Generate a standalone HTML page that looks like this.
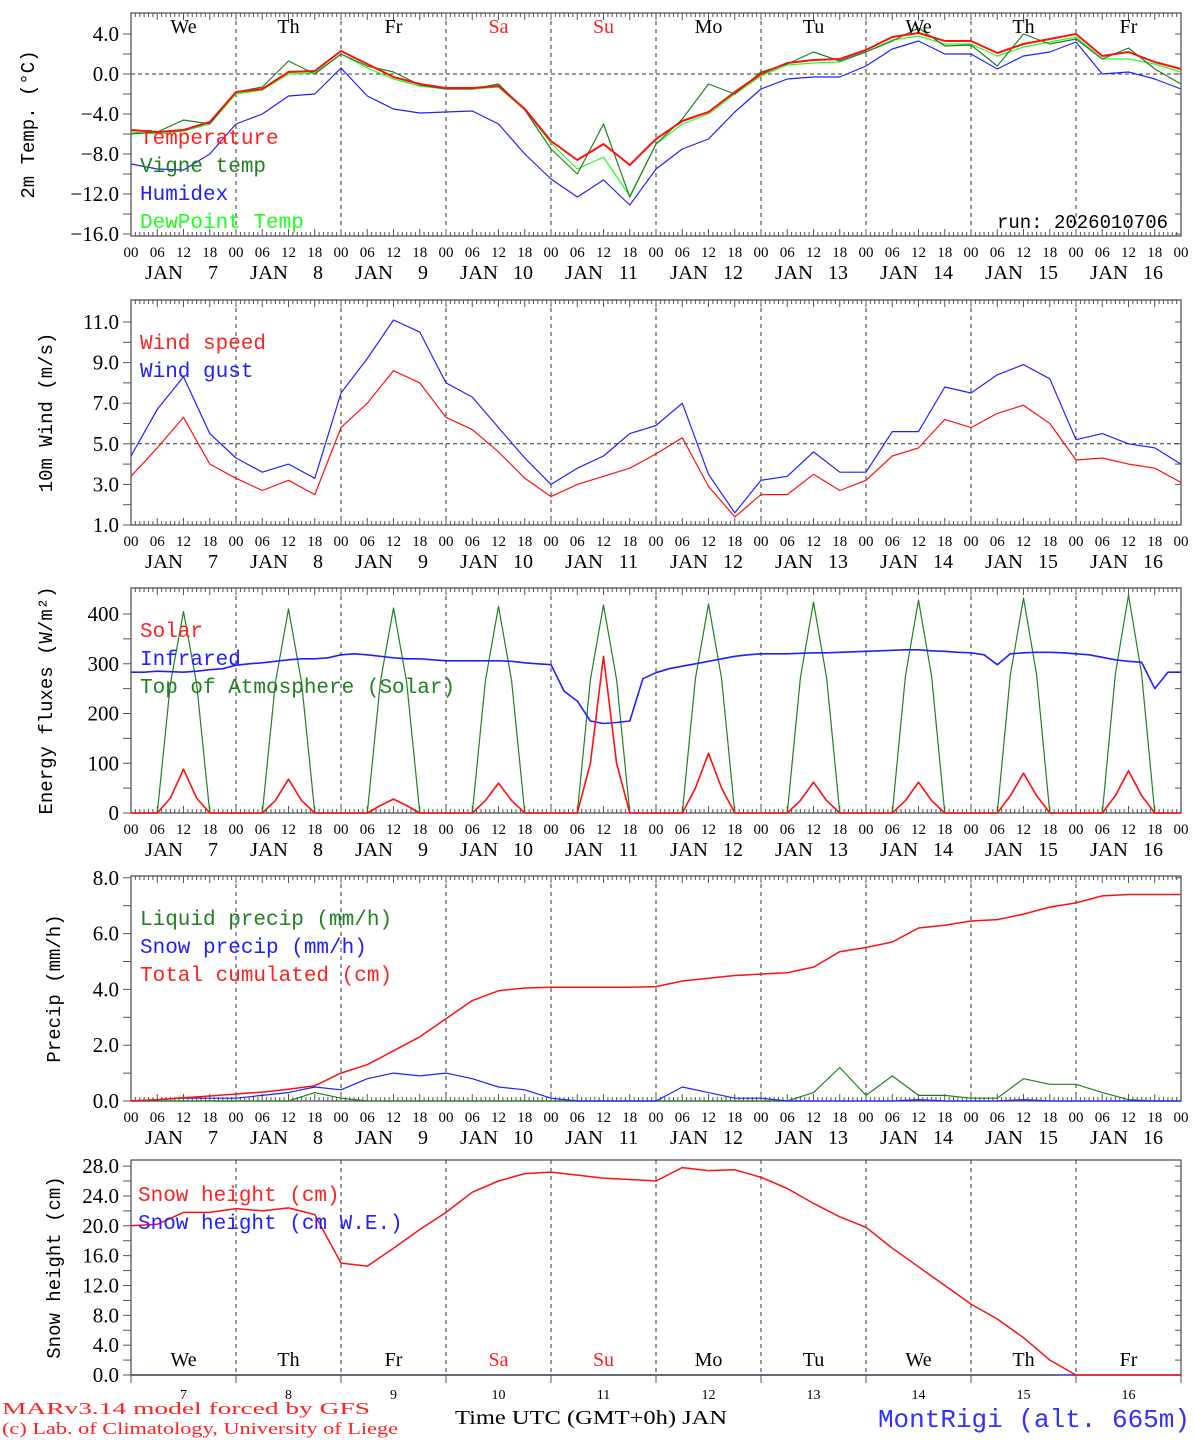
<!DOCTYPE html>
<html><head><meta charset="utf-8"><style>
body{margin:0;background:#fff;}
svg{display:block;}
text{font-family:"Liberation Serif",serif;}
.mono{font-family:"Liberation Mono",monospace;}
</style></head><body>
<svg id="c" width="1194" height="1440" viewBox="0 0 1194 1440" xmlns="http://www.w3.org/2000/svg"></svg>
<script>
// ---- data (6-hourly, Jan 7 00h .. Jan 17 00h) ----
const days = ['7','8','9','10','11','12','13','14','15','16'];
const dayNames = ['We','Th','Fr','Sa','Su','Mo','Tu','We','Th','Fr'];
const hourTicks = ['00','06','12','18'];
const temp = [-5.6,-5.8,-5.6,-4.8,-1.8,-1.5,0.2,0.3,2.3,1.0,-0.3,-1.0,-1.4,-1.4,-1.2,-3.5,-6.7,-8.6,-7.0,-9.1,-6.5,-4.7,-3.8,-1.8,0.0,1.1,1.4,1.5,2.4,3.7,4.1,3.3,3.3,2.1,3.0,3.5,4.0,1.8,2.2,1.2,0.5];
const vigne = [-6.0,-5.8,-4.6,-5.0,-1.8,-1.3,1.3,0.0,2.0,0.8,0.2,-1.1,-1.5,-1.5,-1.0,-3.6,-7.5,-10.0,-5.0,-12.3,-7.0,-4.5,-1.0,-2.0,0.2,1.0,2.2,1.3,2.2,3.3,4.6,2.8,2.9,0.8,4.0,3.0,3.5,1.5,2.6,0.5,-1.0];
const humidex = [-9.0,-9.5,-9.6,-8.0,-5.0,-4.0,-2.2,-2.0,0.6,-2.2,-3.5,-3.9,-3.8,-3.7,-5.0,-8.0,-10.5,-12.3,-10.6,-13.1,-9.5,-7.5,-6.5,-3.8,-1.5,-0.5,-0.3,-0.3,0.8,2.5,3.3,2.0,2.0,0.5,1.8,2.2,3.2,0.0,0.2,-0.5,-1.5];
const dewpoint = [-5.8,-6.0,-5.7,-5.0,-2.0,-1.6,0.0,0.1,2.0,0.6,-0.5,-1.2,-1.5,-1.5,-1.3,-3.6,-6.9,-9.5,-8.3,-12.2,-7.0,-5.0,-4.0,-2.0,-0.2,0.9,1.1,1.2,2.2,3.4,3.8,3.0,3.0,1.8,2.7,3.2,3.7,1.5,1.5,1.0,0.2];
const windSpeed = [3.4,4.8,6.3,4.0,3.3,2.7,3.2,2.5,5.8,7.0,8.6,8.0,6.3,5.7,4.6,3.3,2.4,3.0,3.4,3.8,4.5,5.3,2.9,1.4,2.5,2.5,3.5,2.7,3.2,4.4,4.8,6.2,5.8,6.5,6.9,6.0,4.2,4.3,4.0,3.8,3.1];
const windGust = [4.4,6.7,8.3,5.5,4.3,3.6,4.0,3.3,7.5,9.2,11.1,10.5,8.0,7.3,5.8,4.3,3.0,3.8,4.4,5.5,5.9,7.0,3.5,1.6,3.2,3.4,4.6,3.6,3.6,5.6,5.6,7.8,7.5,8.4,8.9,8.2,5.2,5.5,5.0,4.8,4.0];
// 3-hourly radiation
const solar = [0,0,0,30,88,30,0,0, 0,0,0,25,68,25,0,0, 0,0,0,15,28,15,0,0, 0,0,0,25,60,25,0,0, 0,0,0,100,315,100,0,0, 0,0,0,50,120,50,0,0, 0,0,0,25,62,25,0,0, 0,0,0,25,62,25,0,0, 0,0,0,35,80,35,0,0, 0,0,0,35,85,35,0,0, 0];
const infrared = [283,283,285,284,283,285,288,290, 297,300,302,305,308,310,310,312, 318,320,318,315,312,310,310,308, 306,306,306,306,306,305,302,300, 298,245,225,185,180,182,185,270, 282,290,295,300,305,310,315,318, 320,320,320,321,322,322,323,324, 325,326,327,328,328,326,325,323, 322,318,298,320,322,323,323,322, 320,318,313,308,305,303,250,283, 283];
const toa = [0,0,0,260,405,260,0,0, 0,0,0,262,410,262,0,0, 0,0,0,264,412,264,0,0, 0,0,0,266,415,266,0,0, 0,0,0,268,418,268,0,0, 0,0,0,270,420,270,0,0, 0,0,0,272,424,272,0,0, 0,0,0,275,428,275,0,0, 0,0,0,278,432,278,0,0, 0,0,0,280,438,280,0,0, 0];
const liquid = [0,0,0,0,0,0,0,0.3,0.1,0,0,0,0,0,0,0,0,0,0,0,0,0,0,0,0,0,0.3,1.2,0.2,0.9,0.2,0.2,0.1,0.1,0.8,0.6,0.6,0.3,0.05,0,0];
const snowPrecip = [0,0.05,0.1,0.1,0.1,0.2,0.3,0.5,0.4,0.8,1.0,0.9,1.0,0.8,0.5,0.4,0.1,0,0,0,0,0.5,0.3,0.1,0.1,0,0,0,0,0,0.05,0,0,0,0.05,0,0,0,0,0,0];
const totalCum = [0,0.05,0.12,0.18,0.25,0.32,0.42,0.55,1.0,1.3,1.8,2.3,2.95,3.6,3.95,4.05,4.08,4.08,4.08,4.08,4.1,4.3,4.4,4.5,4.55,4.6,4.8,5.35,5.5,5.7,6.2,6.3,6.45,6.5,6.7,6.95,7.1,7.35,7.4,7.4,7.4];
const snowHeight = [20.0,20.2,21.8,21.8,22.3,22.0,22.4,21.5,15.0,14.6,17.0,19.5,21.8,24.5,26.0,27.0,27.2,26.8,26.4,26.2,26.0,27.8,27.4,27.5,26.5,25.0,23.0,21.2,19.8,17.0,14.5,12.0,9.5,7.5,5.0,2.0,0,0,0,0,0];
const snowWE = [0,0,0,0,0,0,0,0,0,0,0,0,0,0,0,0,0,0,0,0,0,0,0,0,0,0,0,0,0,0,0,0,0,0,0,0,0,0,0,0,0];

const NS='http://www.w3.org/2000/svg';
const svg=document.getElementById('c');
function el(tag,attrs,parent){const e=document.createElementNS(NS,tag);for(const k in attrs)e.setAttribute(k,attrs[k]);(parent||svg).appendChild(e);return e;}
function txt(s,x,y,attrs,name){const t=el('text',Object.assign({x:x,y:y},attrs));t.textContent=s;


return t;}
const X0=131,X1=1181,PXH=(X1-X0)/240;
function X(h){return X0+h*PXH;}

const panels=[
 {top:13,bot:236,ref:0,refY:74,sc:10,ticks:[4,0,-4,-8,-12,-16],minor:2,fmt:1,title:'2m Temp. (°C)',name:'temperature-panel'},
 {top:300,bot:525,ref:1,refY:525,sc:20.3,ticks:[11,9,7,5,3,1],minor:1,fmt:1,title:'10m Wind (m/s)',name:'wind-panel'},
 {top:588,bot:813,ref:0,refY:813,sc:0.4975,ticks:[400,300,200,100,0],minor:50,fmt:0,title:'Energy fluxes (W/m²)',name:'energy-panel'},
 {top:876,bot:1101,ref:0,refY:1101,sc:27.9,ticks:[8,6,4,2,0],minor:1,fmt:1,title:'Precip (mm/h)',name:'precip-panel'},
 {top:1160,bot:1375,ref:0,refY:1375,sc:7.46,ticks:[28,24,20,16,12,8,4,0],minor:2,fmt:1,title:'Snow height (cm)',name:'snow-panel'}
];
panels.forEach((p,pi)=>{
 p.Y=v=>p.refY-(v-p.ref)*p.sc;
 const g=el('g',{});
 
 
 el('rect',{x:X0,y:p.top,width:X1-X0,height:p.bot-p.top,fill:'none',stroke:'#555','stroke-width':1.3},g);
 for(let d=1;d<10;d++){el('line',{x1:X(d*24),x2:X(d*24),y1:p.top,y2:p.bot,stroke:'#333','stroke-dasharray':'4,4','stroke-width':1},g);}
 if(pi<4){
  for(let h=0;h<=240;h++){const L=(h%6==0)?7:4;
   el('line',{x1:X(h),x2:X(h),y1:p.bot,y2:p.bot-L,stroke:'#555','stroke-width':1},g);
   el('line',{x1:X(h),x2:X(h),y1:p.top,y2:p.top+L,stroke:'#555','stroke-width':1},g);}
  for(let h=0;h<=240;h+=6){txt(hourTicks[(h/6)%4],X(h),p.bot+21,{'font-size':15,'text-anchor':'middle'},'x-tick-hour');}
  days.forEach((d,i)=>{
   txt('JAN',X(i*24)+14,p.bot+43,{'font-size':20,textLength:38,lengthAdjust:'spacingAndGlyphs'},'x-tick-month');
   txt(d,X(i*24)+87,p.bot+43,{'font-size':20,'text-anchor':'end'},'x-tick-day');});
 } else {
  for(let d=0;d<=10;d++)el('line',{x1:X(d*24),x2:X(d*24),y1:p.bot,y2:p.bot+8,stroke:'#555'},g);
  days.forEach((d,i)=>{txt(d,X(i*24+12),p.bot+24,{'font-size':14,'text-anchor':'middle'},'x-tick-day');});
 }
 const vmax=p.ticks[0],vmin=p.ticks[p.ticks.length-1];
 for(let v=vmin;v<=vmax+1e-9;v+=p.minor){el('line',{x1:X0,x2:X0-8,y1:p.Y(v),y2:p.Y(v),stroke:'#555'},g);el('line',{x1:X1,x2:X1-6,y1:p.Y(v),y2:p.Y(v),stroke:'#555'},g);}
 p.ticks.forEach(v=>{txt((v<0?'\u2212':'')+Math.abs(v).toFixed(p.fmt),X0-12,p.Y(v)+7,{'font-size':21,'text-anchor':'end'},'y-tick-label');});
 const cy=(p.top+p.bot)/2, tx=pi==0?34:(pi<3?52:60);
 txt(p.title,tx,cy,{'font-size':19,'text-anchor':'middle',transform:`rotate(-90 ${tx} ${cy})`,class:'mono'},'y-axis-title');
});
function line(p,arr,step,color,name,w){
 const pts=arr.map((v,i)=>X(i*step).toFixed(1)+','+p.Y(v).toFixed(1)).join(' ');
 const e=el('polyline',{points:pts,fill:'none',stroke:color,'stroke-width':w||1.2,'stroke-linejoin':'round'});
 
 
}
const P=panels;
el('line',{x1:X0,x2:X1,y1:P[0].Y(0),y2:P[0].Y(0),stroke:'#333','stroke-dasharray':'4,3'});
line(P[0],humidex,6,'#2020ff','humidex-line');
line(P[0],dewpoint,6,'#20ff20','dewpoint-line');
line(P[0],vigne,6,'#208020','vigne-temp-line');
line(P[0],temp,6,'#ff1010','temperature-line',2);
dayNames.forEach((d,i)=>{txt(d,X(i*24+12),33,{'font-size':20,'text-anchor':'middle',fill:(i==3||i==4)?'#ff2020':'#000'},'day-name');});
[['Temperature','#ff2020'],['Vigne temp','#208020'],['Humidex','#2020ff'],['DewPoint Temp','#20ff20']].forEach((l,i)=>txt(l[0],140,144+i*28,{'font-size':21,fill:l[1],class:'mono'},'legend-entry'));
txt('run: 2026010706',1168,228,{'font-size':19,'text-anchor':'end',class:'mono'},'run-label');
el('line',{x1:X0,x2:X1,y1:P[1].Y(5),y2:P[1].Y(5),stroke:'#333','stroke-dasharray':'4,3'});
line(P[1],windGust,6,'#2020ff','wind-gust-line');
line(P[1],windSpeed,6,'#ff1010','wind-speed-line');
[['Wind speed','#ff2020'],['Wind gust','#2020ff']].forEach((l,i)=>txt(l[0],140,349+i*28,{'font-size':21,fill:l[1],class:'mono'},'legend-entry'));
line(P[2],toa,3,'#208020','toa-solar-line');
line(P[2],infrared,3,'#2020ff','infrared-line',1.6);
line(P[2],solar,3,'#ff1010','solar-line',1.6);
[['Solar','#ff2020'],['Infrared','#2020ff'],['Top of Atmosphere (Solar)','#208020']].forEach((l,i)=>txt(l[0],140,637+i*28,{'font-size':21,fill:l[1],class:'mono'},'legend-entry'));
line(P[3],liquid,6,'#208020','liquid-precip-line');
line(P[3],snowPrecip,6,'#2020ff','snow-precip-line');
line(P[3],totalCum,6,'#ff1010','total-cumulated-line',1.5);
[['Liquid precip (mm/h)','#208020'],['Snow precip (mm/h)','#2020ff'],['Total cumulated (cm)','#ff2020']].forEach((l,i)=>txt(l[0],140,925+i*28,{'font-size':21,fill:l[1],class:'mono'},'legend-entry'));
line(P[4],snowWE,6,'#2020ff','snow-we-line');
line(P[4],snowHeight,6,'#ff1010','snow-height-line',1.5);
el('line',{x1:X0,x2:1058,y1:1375,y2:1375,stroke:'#555','stroke-width':1.6});
[['Snow height (cm)','#ff2020'],['Snow height (cm W.E.)','#2020ff']].forEach((l,i)=>txt(l[0],138,1201+i*28,{'font-size':21,fill:l[1],class:'mono'},'legend-entry'));
dayNames.forEach((d,i)=>{txt(d,X(i*24+12),1366,{'font-size':20,'text-anchor':'middle',fill:(i==3||i==4)?'#ff2020':'#000'},'day-name');});
txt('MARv3.14 model forced by GFS',2,1414,{'font-size':17,fill:'#ff2020',textLength:368,lengthAdjust:'spacingAndGlyphs'},'model-credit');
txt('(c) Lab. of Climatology, University of Liege',2,1434,{'font-size':17,fill:'#ff2020',textLength:396,lengthAdjust:'spacingAndGlyphs'},'copyright');
txt('Time UTC (GMT+0h) JAN',455,1424,{'font-size':20,textLength:272,lengthAdjust:'spacingAndGlyphs'},'x-axis-title');
txt('MontRigi (alt. 665m)',1190,1427,{'font-size':26,fill:'#3030ff','text-anchor':'end',class:'mono'},'station-title');
</script>
</body></html>
